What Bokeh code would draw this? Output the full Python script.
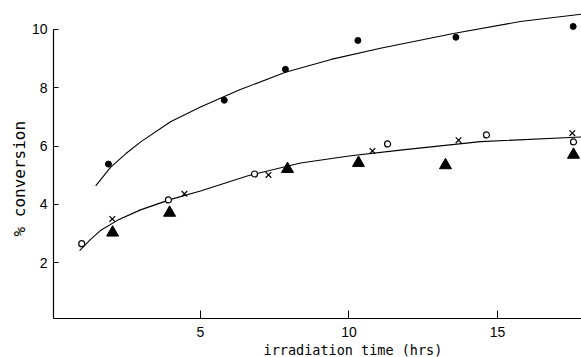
from bokeh.plotting import figure
from bokeh.models import Range1d, FixedTicker, Title
from bokeh.embed import file_html
from bokeh.resources import INLINE

# filled circles (upper series)
fc_x = [1.9, 5.8, 7.86, 10.3, 13.6, 17.55]
fc_y = [5.38, 7.57, 8.63, 9.62, 9.73, 10.1]
# open circles
oc_x = [1.0, 3.92, 6.82, 11.3, 14.63, 17.56]
oc_y = [2.65, 4.15, 5.04, 6.07, 6.38, 6.14]
# crosses
cr_x = [2.03, 4.46, 7.29, 10.79, 13.69, 17.52]
cr_y = [3.50, 4.36, 5.01, 5.83, 6.2, 6.44]
# triangles
tr_x = [2.04, 3.96, 7.93, 10.32, 13.25, 17.56]
tr_y = [3.03, 3.71, 5.21, 5.42, 5.34, 5.70]
# fitted curves
up_x = [1.47, 1.97, 2.5, 3.0, 3.99, 5.0, 6.3, 7.86, 9.4, 11.06, 13.52, 15.77, 17.83]
up_y = [4.63, 5.27, 5.75, 6.15, 6.83, 7.34, 7.92, 8.53, 8.97, 9.35, 9.86, 10.27, 10.52]
lo_x = [0.93, 1.3, 1.63, 2.2, 2.98, 4.0, 5.0, 6.6, 8.37, 10.0, 11.73, 14.43, 17.83]
lo_y = [2.41, 2.8, 3.1, 3.45, 3.81, 4.17, 4.46, 4.98, 5.42, 5.66, 5.86, 6.15, 6.31]

x_ticks = [5, 10, 15]
y_ticks = [2, 4, 6, 8, 10]
x_title = "irradiation time  (hrs)"
y_title = "% conversion"

p = figure(width=581, height=357, output_backend="svg", toolbar_location=None,
           x_range=Range1d(0.05, 17.83), y_range=Range1d(0.085, 10.99),
           min_border_left=53, min_border_right=0, min_border_top=0, min_border_bottom=38)
p.outline_line_color = None
p.xgrid.grid_line_color = None
p.ygrid.grid_line_color = None
p.background_fill_color = "white"
p.border_fill_color = "white"

p.line(up_x, up_y, line_color="black", line_width=1.1)
p.line(lo_x, lo_y, line_color="black", line_width=1.1)
p.scatter(fc_x, fc_y, marker="circle", size=6, fill_color="black", line_color="black")
p.scatter(oc_x, oc_y, marker="circle", size=6, fill_color="white", line_color="black", line_width=1.2)
p.scatter(cr_x, cr_y, marker="x", size=8, line_color="black", line_width=1.2)
p.scatter(tr_x, tr_y, marker="triangle", size=12, fill_color="black", line_color="black")

for ax in (p.xaxis[0], p.yaxis[0]):
    ax.axis_line_color = "black"
    ax.axis_line_width = 1.2
    ax.major_tick_line_color = "black"
    ax.minor_tick_line_color = None
    ax.major_tick_out = 0
    ax.major_label_text_font = "Liberation Sans"
    ax.major_label_text_font_size = "14px"
    ax.major_label_text_color = "black"

p.xaxis.ticker = FixedTicker(ticks=x_ticks)
p.yaxis.ticker = FixedTicker(ticks=y_ticks)
p.xaxis.major_tick_in = 8
p.yaxis.major_tick_in = 5
p.yaxis.bounds = (0.085, 10)
p.xaxis.major_label_standoff = 8
p.yaxis.major_label_standoff = 6

p.add_layout(Title(text=x_title, align="left", offset=210, standoff=0,
                   text_font="DejaVu Sans Mono", text_font_size="13.5px",
                   text_font_style="normal", text_color="black"), "below")
p.add_layout(Title(text=y_title, align="left", offset=82, standoff=0,
                   text_font="DejaVu Sans Mono", text_font_size="16px",
                   text_font_style="normal", text_color="black"), "left")

open("out.html", "w").write(file_html(p, INLINE))
